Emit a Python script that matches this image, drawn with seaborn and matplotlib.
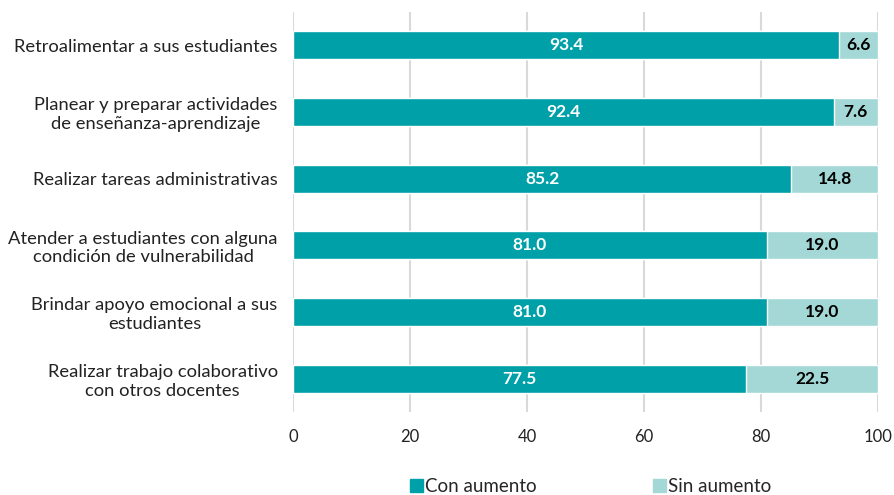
import matplotlib
matplotlib.use("Agg")
import matplotlib.pyplot as plt
import numpy as np
import pandas as pd
import seaborn as sns
from matplotlib.patches import Patch

categorias = [
    "Retroalimentar a sus estudiantes",
    "Planear y preparar actividades\nde enseñanza-aprendizaje",
    "Realizar tareas administrativas",
    "Atender a estudiantes con alguna\ncondición de vulnerabilidad",
    "Brindar apoyo emocional a sus\nestudiantes",
    "Realizar trabajo colaborativo\ncon otros docentes",
]
con_aumento = [93.4, 92.4, 85.2, 81.0, 81.0, 77.5]
sin_aumento = [6.6, 7.6, 14.8, 19.0, 19.0, 22.5]

COL_CON = "#00A0A8"
COL_SIN = "#A3D8D6"

sns.set_theme(style="white")
plt.rcParams["font.family"] = ["Lato", "DejaVu Sans"]

df = pd.DataFrame({"categoria": categorias, "con": con_aumento, "sin": sin_aumento})
df["total"] = df["con"] + df["sin"]

fig = plt.figure(figsize=(8.95, 4.95), dpi=100)
ax = fig.add_axes([0.3274, 0.168, 0.6536, 0.808])

# barra completa en color claro y encima la parte "con aumento"
sns.barplot(data=df, x="total", y="categoria", orient="h", color=COL_SIN,
            width=0.42, ax=ax, saturation=1)
sns.barplot(data=df, x="con", y="categoria", orient="h", color=COL_CON,
            width=0.42, ax=ax, saturation=1)

for i, (c, s) in enumerate(zip(df["con"], df["sin"])):
    ax.text(c / 2, i, f"{c:.1f}", ha="center", va="center", color="white",
            fontsize=12.5, fontweight="bold")
    ax.text(c + s / 2, i, f"{s:.1f}", ha="center", va="center", color="black",
            fontsize=12.5, fontweight="bold")

ax.set_xlim(0, 100)
ax.set_ylim(5.5, -0.5)
ax.set_xticks([0, 20, 40, 60, 80, 100])
ax.xaxis.grid(True, color="#D9D9D9", linewidth=1.5)
ax.set_axisbelow(True)
for sp in ax.spines.values():
    sp.set_visible(False)
ax.set_xlabel("")
ax.set_ylabel("")
ax.tick_params(axis="x", length=0, labelsize=12, colors="#222222", pad=12)
ax.tick_params(axis="y", length=0, labelsize=13.2, colors="#222222", pad=11)
for lbl in ax.get_yticklabels():
    lbl.set_multialignment("center")

handles = [Patch(color=COL_CON, label="Con aumento"),
           Patch(color=COL_SIN, label="Sin aumento")]
fig.legend(handles=handles, loc="lower center", bbox_to_anchor=(0.66, -0.035),
           ncol=2, frameon=False, fontsize=13.5, handlelength=0.7,
           handleheight=0.7, handletextpad=0.1, columnspacing=6.2)

fig.savefig("out.png", dpi=100)
